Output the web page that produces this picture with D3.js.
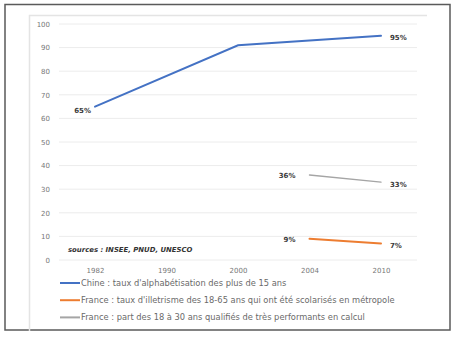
<!DOCTYPE html>
<html>
<head>
<meta charset="utf-8">
<script src="https://cdn.jsdelivr.net/npm/d3@7/dist/d3.min.js"></script>
<style>
  html, body { margin: 0; padding: 0; background: #fff; }
  svg { display: block; font-family: "DejaVu Sans", sans-serif; }
</style>
</head>
<body>
<svg id="chart" width="459" height="339"></svg>
<script>
// Years on the categorical x axis
const years = ["1982", "1990", "2000", "2004", "2010"];
// Series values (null = no measurement for that year)
const chine = [65, null, 91, null, 95];
const franceIllettrisme = [null, null, null, 9, 7];
const franceCalcul = [null, null, null, 36, 33];
const yTicks = [0, 10, 20, 30, 40, 50, 60, 70, 80, 90, 100];
const seriesNames = [
  "Chine : taux d'alphabétisation des plus de 15 ans",
  "France : taux d'illetrisme des 18-65 ans qui ont été scolarisés en métropole",
  "France : part des 18 à 30 ans qualifiés de très performants en calcul"
];
const seriesColors = ["#4472C4", "#ED7D31", "#A5A5A5"];
const sourceText = "sources : INSEE, PNUD, UNESCO";

const svg = d3.select("#chart");

// frames
svg.append("rect").attr("x", 5).attr("y", 4.5).attr("width", 445).attr("height", 325.5)
  .attr("fill", "none").attr("stroke", "#5a5a5a").attr("stroke-width", 1.5);
svg.append("path").attr("d", "M29.5,331 V15.5 H427")
  .attr("fill", "none").attr("stroke", "#e4e4e4").attr("stroke-width", 1.5);

const x = d3.scalePoint().domain(years).range([95, 381]);
const y = d3.scaleLinear().domain([0, 100]).range([260, 24]);

// gridlines
svg.append("g").selectAll("line").data(yTicks).join("line")
  .attr("x1", 59).attr("x2", 417)
  .attr("y1", d => y(d)).attr("y2", d => y(d))
  .attr("stroke", "#ececec").attr("stroke-width", 1);

// y axis labels
const yAxis = svg.append("g").attr("transform", "translate(52,0)")
  .call(d3.axisLeft(y).tickValues(yTicks).tickSize(0).tickPadding(2));
yAxis.select(".domain").remove();
yAxis.selectAll("text").attr("fill", "#777").style("font-size", "7px")
  .style("font-family", "\"DejaVu Sans\", sans-serif");

// x axis labels
const xAxis = svg.append("g").attr("transform", "translate(0,266)")
  .call(d3.axisBottom(x).tickSize(0).tickPadding(2));
xAxis.select(".domain").remove();
xAxis.selectAll("text").attr("fill", "#777").style("font-size", "7px")
  .style("font-family", "\"DejaVu Sans\", sans-serif");

// series lines
const allSeries = [chine, franceIllettrisme, franceCalcul];
const line = d3.line().x(d => x(d.year)).y(d => y(d.value));
allSeries.forEach((vals, i) => {
  const pts = years.map((yr, j) => ({ year: yr, value: vals[j] })).filter(d => d.value !== null);
  svg.append("path").datum(pts)
    .attr("d", line)
    .attr("fill", "none")
    .attr("stroke", seriesColors[i])
    .attr("stroke-width", i === 2 ? 1.4 : 2)
    .attr("stroke-linecap", "round");
  // value labels: first point to the left, last point to the right
  const first = pts[0], last = pts[pts.length - 1];
  const atEdge = first.year === years[0];
  [[first, atEdge ? -4 : -14, atEdge ? 6.5 : 3, "end"], [last, 9, 4.5, "start"]]
    .forEach(([p, dx, dy, anchor]) => {
      svg.append("text")
        .attr("x", x(p.year) + dx)
        .attr("y", y(p.value) + dy)
        .attr("text-anchor", anchor)
        .attr("fill", "#3a3a3a")
        .style("font-size", "7px")
        .style("font-weight", "bold")
        .text(p.value + "%");
    });
});

// source note
svg.append("text").attr("x", 68).attr("y", 252)
  .attr("fill", "#333").style("font-size", "6.9px")
  .style("font-style", "italic").style("font-weight", "bold")
  .text(sourceText);

// legend
const lg = svg.append("g");
seriesNames.forEach((name, i) => {
  const ly = 283 + i * 17.2;
  lg.append("line").attr("x1", 60).attr("x2", 80).attr("y1", ly).attr("y2", ly)
    .attr("stroke", seriesColors[i]).attr("stroke-width", 2);
  lg.append("text").attr("x", 81).attr("y", ly + 2.8)
    .attr("fill", "#6a6a6a").style("font-size", "8.3px")
    .text(name);
});
</script>
</body>
</html>
